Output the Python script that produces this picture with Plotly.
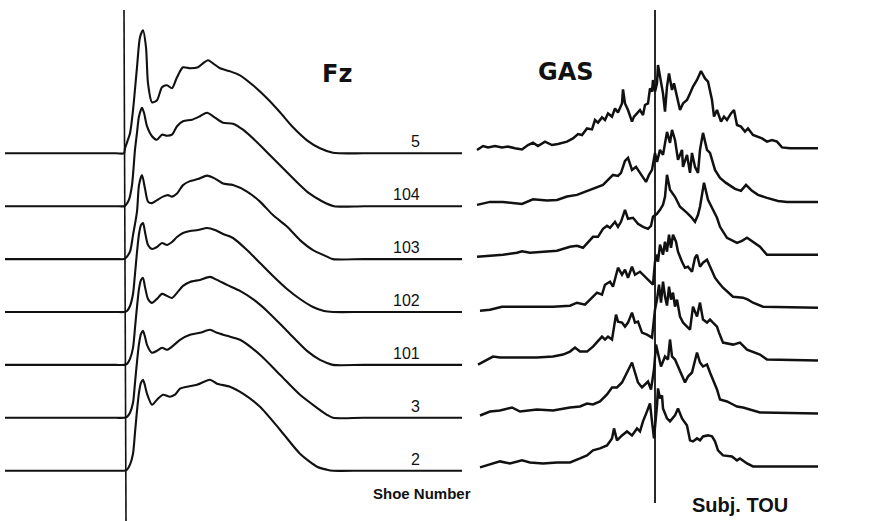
import plotly.graph_objects as go

# Shoe conditions, top to bottom
SHOES = ["5", "104", "103", "102", "101", "3", "2"]

# Vertical ground reaction force Fz (N) vs time from touchdown (ms)
FZ_T_5 = [-119, -60, -8, 0, 1, 6, 9, 13, 16, 19, 22, 24, 28, 33, 38, 43, 48, 53, 59, 66, 74, 79,
          84, 89, 96, 106, 116, 129, 143, 156, 169, 183, 196, 209, 216, 240, 338]
FZ_5 = [0, 0, 0, 0, 100, 400, 860, 1720, 2320, 2460, 2120, 1400, 1020, 1060, 1320, 1360, 1300, 1520, 1720, 1700, 1720, 1800,
        1860, 1800, 1700, 1640, 1560, 1360, 1100, 820, 520, 260, 100, 10, 0, 0, 0]

FZ_T_104 = [-119, -60, -8, 0, 2, 5, 8, 11, 13, 15, 18, 20, 23, 28, 33, 38, 43, 48, 53, 59, 68, 76,
            83, 91, 99, 109, 119, 133, 146, 159, 172, 185, 198, 210, 240, 338]
FZ_104 = [0, 0, 0, 0, 30, 130, 420, 1130, 1470, 1800, 1970, 1870, 1600, 1400, 1330, 1430, 1410, 1430, 1600, 1700, 1730, 1800,
          1870, 1770, 1670, 1650, 1530, 1280, 1020, 760, 500, 260, 100, 0, 0, 0]

FZ_T_103 = [-119, -60, -8, 0, 1, 6, 9, 13, 15, 18, 21, 24, 28, 33, 39, 44, 48, 53, 59, 66, 74, 83,
            91, 99, 109, 123, 136, 149, 163, 176, 189, 203, 209, 240, 338]
FZ_103 = [0, 0, 0, 0, 10, 150, 480, 950, 1480, 1680, 1410, 1150, 1120, 1180, 1250, 1280, 1250, 1310, 1480, 1560, 1600, 1670,
          1610, 1510, 1480, 1350, 1150, 880, 650, 380, 180, 50, 0, 0, 0]

FZ_T_102 = [-119, -60, -8, 0, 3, 6, 9, 11, 13, 15, 17, 19, 21, 24, 28, 33, 38, 43, 48, 53, 59, 66,
            74, 83, 91, 99, 109, 123, 136, 149, 163, 176, 189, 200, 209, 240, 338]
FZ_102 = [0, 0, 0, 0, 20, 120, 360, 760, 1200, 1560, 1740, 1780, 1600, 1340, 1260, 1300, 1380, 1340, 1400, 1500, 1580, 1620,
          1640, 1680, 1640, 1560, 1480, 1240, 980, 720, 460, 260, 100, 20, 0, 0, 0]

FZ_T_101 = [-119, -60, -8, 0, 3, 6, 9, 11, 13, 15, 17, 19, 21, 24, 28, 33, 38, 43, 48, 53, 59, 66,
            76, 86, 93, 103, 116, 130, 143, 163, 183, 196, 203, 209, 240, 338]
FZ_101 = [0, 0, 0, 0, 20, 120, 340, 740, 1160, 1520, 1700, 1740, 1560, 1320, 1240, 1320, 1420, 1380, 1340, 1440, 1580, 1660,
          1700, 1760, 1700, 1600, 1480, 1300, 1080, 680, 280, 100, 40, 0, 0, 0]

FZ_T_3 = [-119, -60, -8, 0, 3, 6, 9, 11, 13, 15, 17, 19, 21, 23, 28, 33, 38, 43, 49, 56, 66, 76,
          86, 93, 103, 116, 136, 156, 176, 193, 203, 209, 240, 338]
FZ_3 = [0, 0, 0, 0, 20, 100, 300, 700, 1120, 1480, 1680, 1740, 1620, 1460, 1300, 1340, 1400, 1360, 1440, 1560, 1660, 1700,
        1760, 1700, 1640, 1560, 1260, 860, 460, 200, 60, 0, 0, 0]

FZ_T_2 = [-119, -60, -8, 0, 3, 6, 9, 11, 13, 15, 17, 19, 21, 23, 28, 33, 39, 46, 51, 56, 63, 73,
          86, 93, 106, 119, 136, 156, 176, 193, 203, 209, 240, 338]
FZ_2 = [0, 0, 0, 0, 20, 120, 340, 760, 1200, 1560, 1760, 1820, 1700, 1540, 1320, 1420, 1520, 1480, 1520, 1640, 1680, 1720,
        1820, 1740, 1680, 1540, 1280, 820, 340, 80, 20, 0, 0, 0]

# Gastrocnemius EMG envelope (µV) vs time from subject touchdown (ms)
GAS_T_5 = [-178, -172, -167, -160, -153, -147, -140, -133, -127, -122, -117, -110, -103, -97, -88, -82, -77, -73, -68, -63,
           -60, -57, -53, -50, -47, -43, -40, -37, -33, -32, -30, -27, -23, -21, -18, -15, -12, -10, -7, -5,
           -3, -2, 0, 2, 3, 6, 8, 10, 12, 14, 17, 19, 22, 25, 28, 32, 35, 38, 42, 46,
           50, 53, 57, 59, 62, 66, 69, 72, 76, 79, 82, 86, 90, 93, 98, 102, 107, 112, 117, 122,
           127, 135, 163]
GAS_5 = [-5, 15, 8, 15, 8, 12, 4, -2, 20, 32, 15, 37, 20, 25, 37, 53, 75, 70, 103, 98,
         145, 132, 158, 145, 178, 162, 203, 182, 228, 298, 228, 195, 137, 162, 178, 195, 170, 220, 228, 303,
         287, 345, 287, 328, 420, 345, 278, 187, 312, 378, 295, 328, 262, 195, 228, 245, 278, 312, 345, 390,
         353, 337, 245, 162, 195, 137, 162, 145, 178, 195, 120, 112, 87, 103, 70, 62, 53, 37, 45, 37,
         8, 4, 4]

GAS_T_104 = [-178, -165, -152, -133, -122, -108, -98, -88, -78, -70, -60, -52, -47, -42, -37, -34, -30, -27, -23, -19,
             -15, -12, -9, -6, -3, 0, 2, 5, 8, 12, 15, 17, 20, 23, 27, 28, 32, 35, 37, 40,
             43, 45, 48, 52, 55, 60, 65, 71, 80, 86, 91, 97, 103, 112, 123, 132, 163]
GAS_104 = [-15, 0, 0, -10, 13, 7, 10, 27, 35, 50, 70, 85, 110, 135, 130, 145, 205, 220, 160, 175,
           145, 125, 100, 135, 160, 245, 200, 260, 235, 350, 295, 360, 310, 210, 260, 175, 235, 145, 245, 175,
           145, 260, 345, 260, 245, 160, 120, 95, 65, 55, 85, 55, 35, 20, 5, 0, 0]

GAS_T_103 = [-178, -165, -152, -138, -133, -125, -112, -98, -85, -78, -72, -67, -62, -57, -52, -48, -45, -40, -37, -34,
             -30, -27, -22, -17, -12, -7, -4, -2, 2, 5, 8, 10, 12, 15, 20, 25, 29, 32, 36, 40,
             43, 45, 49, 53, 58, 62, 65, 72, 82, 87, 92, 98, 105, 112, 163]
GAS_103 = [-10, -5, 0, 10, 18, 10, 15, 20, 40, 45, 35, 65, 90, 90, 130, 145, 135, 165, 140, 165,
           225, 180, 185, 155, 140, 130, 145, 190, 205, 225, 250, 290, 400, 325, 290, 240, 225, 210, 190, 165,
           200, 240, 360, 275, 225, 185, 140, 85, 60, 70, 85, 65, 40, 0, 0]

GAS_T_102 = [-175, -165, -153, -135, -118, -102, -85, -78, -70, -65, -58, -53, -50, -45, -42, -37, -33, -30, -27, -23,
             -20, -15, -10, -5, -2, 0, 2, 3, 5, 8, 10, 12, 14, 16, 18, 21, 23, 27, 30, 33,
             37, 40, 42, 45, 48, 52, 54, 57, 60, 63, 68, 78, 88, 93, 98, 108, 163]
GAS_102 = [-15, -10, 5, 5, 5, 5, 10, 25, 15, 40, 75, 65, 115, 130, 105, 200, 165, 190, 150, 205,
           165, 180, 155, 130, 115, 230, 265, 230, 315, 265, 330, 280, 365, 300, 365, 330, 280, 230, 200, 205,
           180, 250, 265, 205, 225, 240, 215, 180, 150, 130, 100, 55, 50, 40, 25, 5, 0]

GAS_T_101 = [-177, -168, -162, -155, -135, -118, -102, -92, -85, -80, -75, -68, -62, -57, -53, -50, -47, -43, -39, -37,
             -33, -30, -27, -23, -20, -17, -13, -8, -3, 0, 2, 4, 6, 8, 10, 12, 14, 16, 18, 20,
             22, 25, 28, 32, 35, 38, 42, 45, 48, 52, 55, 58, 62, 64, 68, 78, 85, 92, 98, 105,
             112, 163]
GAS_101 = [-20, 5, 20, 15, 15, 15, 20, 30, 45, 65, 45, 45, 70, 95, 120, 105, 120, 105, 230, 195,
           190, 170, 190, 240, 190, 195, 140, 130, 115, 255, 305, 380, 290, 395, 320, 275, 370, 305, 340, 270,
           305, 220, 190, 170, 155, 270, 220, 290, 205, 190, 205, 190, 170, 140, 90, 80, 90, 55, 45, 30,
           5, 0]

GAS_T_3 = [-175, -165, -155, -143, -135, -118, -102, -85, -75, -68, -62, -55, -48, -43, -38, -33, -28, -23, -20, -17,
           -13, -10, -7, -4, -1, 1, 3, 6, 10, 13, 15, 17, 20, 23, 27, 30, 33, 37, 42, 45,
           48, 52, 55, 62, 65, 72, 78, 82, 88, 98, 105, 163]
GAS_3 = [-10, 10, 15, 30, 10, 20, 15, 30, 35, 50, 45, 60, 95, 130, 130, 155, 205, 255, 205, 155,
         130, 145, 160, 120, 220, 345, 305, 235, 285, 270, 370, 285, 270, 235, 185, 155, 185, 205, 305, 255,
         235, 245, 205, 120, 70, 60, 45, 35, 30, 15, 5, 0]

GAS_T_2 = [-175, -165, -155, -145, -133, -125, -112, -98, -85, -75, -68, -62, -55, -48, -43, -41, -38, -33, -28, -23,
           -18, -15, -12, -8, -5, -3, -1, 2, 3, 5, 7, 8, 12, 15, 20, 23, 27, 32, 35, 38,
           42, 45, 48, 53, 57, 60, 63, 68, 77, 82, 85, 92, 98, 163]
GAS_2 = [-5, 10, 25, 15, 30, 20, 15, 20, 20, 40, 55, 80, 90, 105, 140, 190, 130, 155, 175, 155,
         190, 175, 225, 275, 315, 225, 140, 305, 390, 340, 355, 290, 240, 225, 255, 290, 240, 205, 130, 125,
         140, 130, 150, 155, 150, 125, 80, 55, 50, 30, 40, 15, 0, 0]

FZ_T = [FZ_T_5, FZ_T_104, FZ_T_103, FZ_T_102, FZ_T_101, FZ_T_3, FZ_T_2]
FZ = [FZ_5, FZ_104, FZ_103, FZ_102, FZ_101, FZ_3, FZ_2]
GAS_T = [GAS_T_5, GAS_T_104, GAS_T_103, GAS_T_102, GAS_T_101, GAS_T_3, GAS_T_2]
GAS = [GAS_5, GAS_104, GAS_103, GAS_102, GAS_101, GAS_3, GAS_2]

# ---- layout constants ----
W, H = 873, 521
FZ_PX_PER_N = 1 / 20.0      # vertical scale of the force traces
GAS_PX_PER_UV = 1 / 5.0     # vertical scale of the EMG traces
ROW_PX = 52.9               # vertical spacing between shoe rows
FZ_TOP_BASE = 153.3         # pixel row of first force baseline
GAS_TOP_BASE = 149.0        # pixel row of first EMG baseline
FZ_T0 = 124                 # pixel column of force touchdown
GAS_T0 = 655                # pixel column of EMG touchdown

fz_gap = ROW_PX / FZ_PX_PER_N
gas_gap = ROW_PX / GAS_PX_PER_UV

fig = go.Figure()
ink = "#111111"

for i, shoe in enumerate(SHOES):
    fig.add_trace(go.Scatter(
        x=FZ_T[i], y=[v - i * fz_gap for v in FZ[i]],
        mode="lines", line=dict(color=ink, width=2.1, shape="spline", smoothing=0.7),
        xaxis="x", yaxis="y", hoverinfo="skip", showlegend=False))
    fig.add_trace(go.Scatter(
        x=GAS_T[i], y=[v - i * gas_gap for v in GAS[i]],
        mode="lines", line=dict(color=ink, width=2.5),
        xaxis="x2", yaxis="y2", hoverinfo="skip", showlegend=False))
    fig.add_annotation(
        x=298, y=-i * fz_gap, xref="x", yref="y", text=shoe, showarrow=False,
        xanchor="right", yanchor="bottom", yshift=1,
        font=dict(family="Liberation Sans", size=16, color=ink))

# touchdown markers
fig.add_shape(type="line", xref="x", yref="paper", x0=0, x1=2,
              y0=1 - 10 / H, y1=0, line=dict(color=ink, width=1.6))
fig.add_shape(type="line", xref="x2", yref="paper", x0=0, x1=0,
              y0=1 - 10 / H, y1=1 - 503 / H, line=dict(color=ink, width=1.8))


def label(px, py, text, size, family):
    fig.add_annotation(x=px / W, y=1 - py / H, xref="paper", yref="paper", text=text,
                       showarrow=False, xanchor="center", yanchor="middle",
                       font=dict(family=family, size=size, color=ink))


label(337, 74, "<b>Fz</b>", 24, "DejaVu Sans")
label(566, 72, "<b>GAS</b>", 24, "DejaVu Sans")
label(422, 493, "<b>Shoe Number</b>", 15, "Liberation Sans")
label(740, 505, "<b>Subj. TOU</b>", 20, "Liberation Sans")

hidden = dict(visible=False, showgrid=False, zeroline=False, fixedrange=True)
fig.update_layout(
    width=W, height=H, margin=dict(l=0, r=0, t=0, b=0),
    paper_bgcolor="white", plot_bgcolor="white",
    xaxis=dict(range=[-FZ_T0, W - FZ_T0], domain=[0, 1], **hidden),
    yaxis=dict(range=[-(H - FZ_TOP_BASE) / FZ_PX_PER_N, FZ_TOP_BASE / FZ_PX_PER_N], domain=[0, 1], **hidden),
    xaxis2=dict(range=[-GAS_T0, W - GAS_T0], overlaying="x", **hidden),
    yaxis2=dict(range=[-(H - GAS_TOP_BASE) / GAS_PX_PER_UV, GAS_TOP_BASE / GAS_PX_PER_UV], overlaying="y", **hidden),
)

fig.write_html("out.html")
